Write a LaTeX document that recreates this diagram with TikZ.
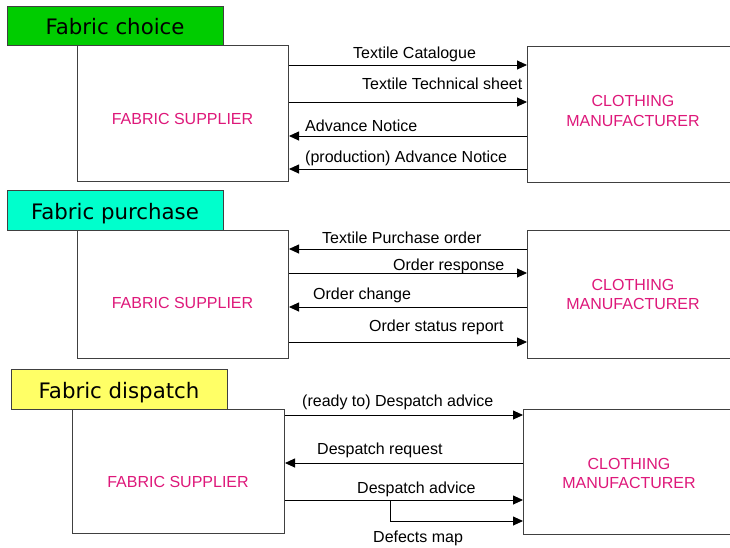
\documentclass[tikz,border=0pt]{standalone}
\usepackage{fontspec}
\setmainfont{Liberation Sans}
\newfontfamily\titlefont{DejaVu Sans}
\usetikzlibrary{arrows.meta}
\definecolor{pinktext}{RGB}{222,24,122}
\definecolor{boxline}{RGB}{64,64,64}
\definecolor{greenT}{RGB}{0,204,0}
\definecolor{cyanT}{RGB}{0,255,204}
\definecolor{yellowT}{RGB}{255,255,102}
\begin{document}
\begin{tikzpicture}[x=1pt,y=-1pt,
  party/.style={draw=boxline, line width=1pt, fill=white, anchor=north west, inner sep=0pt},
  titlebox/.style={draw=boxline, line width=1pt, anchor=north west, inner sep=0pt, minimum width=216pt, minimum height=39pt},
  titletext/.style={font=\titlefont\fontsize{21.3}{25}\selectfont, anchor=base, inner sep=0pt},
  partytext/.style={font=\fontsize{16}{19}\selectfont, text=pinktext, anchor=base, inner sep=0pt},
  msgtext/.style={font=\fontsize{16}{19}\selectfont, anchor=base west, inner sep=0pt},
  msg/.style={draw=black, line width=0.9pt, -{Triangle[length=10pt,width=9pt]}},
]
\useasboundingbox (0,0) rectangle (730,547);
\clip (0,0) rectangle (730,547);
\fill[white] (0,0) rectangle (730,547);

% ---------- Section 1: Fabric choice ----------
\node[party, minimum width=211pt, minimum height=136pt] (s1) at (77,45) {};
\node[party, minimum width=220pt, minimum height=136pt] (m1) at (527,46) {};
\node[titlebox, fill=greenT] (t1) at (7,6) {};
\node[titletext] (t1l) at (115,34) {Fabric choice};
\node[partytext] (s1l) at (182.5,124) {FABRIC SUPPLIER};
\node[partytext] (m1a) at (633,106) {CLOTHING};
\node[partytext] (m1b) at (633,126) {MANUFACTURER};

\coordinate (a1) at (400,65);
\coordinate (a2) at (400,102);
\coordinate (a3) at (400,136);
\coordinate (a4) at (400,169);
\draw[msg] (s1.east |- a1) -- (m1.west |- a1);
\draw[msg] (s1.east |- a2) -- (m1.west |- a2);
\draw[msg] (m1.west |- a3) -- (s1.east |- a3);
\draw[msg] (m1.west |- a4) -- (s1.east |- a4);
\node[msgtext] (l1) at (353,58) {Textile Catalogue};
\node[msgtext] (l2) at (362,89) {Textile Technical sheet};
\node[msgtext] (l3) at (305,131) {Advance Notice};
\node[msgtext] (l4) at (305,162) {(production) Advance Notice};

% ---------- Section 2: Fabric purchase ----------
\node[party, minimum width=211pt, minimum height=128pt] (s2) at (77,230) {};
\node[party, minimum width=220pt, minimum height=128pt] (m2) at (527,230) {};
\node[titlebox, fill=cyanT, minimum height=40pt] (t2) at (7,190) {};
\node[titletext] (t2l) at (115,219) {Fabric purchase};
\node[partytext] (s2l) at (182.5,308) {FABRIC SUPPLIER};
\node[partytext] (m2a) at (633,290) {CLOTHING};
\node[partytext] (m2b) at (633,309.5) {MANUFACTURER};

\coordinate (b1) at (400,249);
\coordinate (b2) at (400,273);
\coordinate (b3) at (400,307);
\coordinate (b4) at (400,342);
\draw[msg] (m2.west |- b1) -- (s2.east |- b1);
\draw[msg] (s2.east |- b2) -- (m2.west |- b2);
\draw[msg] (m2.west |- b3) -- (s2.east |- b3);
\draw[msg] (s2.east |- b4) -- (m2.west |- b4);
\node[msgtext] (k1) at (322,243) {Textile Purchase order};
\node[msgtext] (k2) at (393,270) {Order response};
\node[msgtext] (k3) at (313,299) {Order change};
\node[msgtext] (k4) at (369,331) {Order status report};

% ---------- Section 3: Fabric dispatch ----------
\node[party, minimum width=212pt, minimum height=124pt] (s3) at (72,409) {};
\node[party, minimum width=220pt, minimum height=125pt] (m3) at (523,409) {};
\node[titlebox, fill=yellowT, minimum height=40pt] (t3) at (11,369) {};
\node[titletext] (t3l) at (119,398) {Fabric dispatch};
\node[partytext] (s3l) at (178,487) {FABRIC SUPPLIER};
\node[partytext] (m3a) at (629,469) {CLOTHING};
\node[partytext] (m3b) at (629,488.5) {MANUFACTURER};

\coordinate (c1) at (400,415);
\coordinate (c2) at (400,463);
\coordinate (c3) at (400,500);
\coordinate (dm) at (390,500);
\coordinate (c4) at (450,521);
\draw[msg] (s3.east |- c1) -- (m3.west |- c1);
\draw[msg] (m3.west |- c2) -- (s3.east |- c2);
\draw[msg] (s3.east |- c3) -- (m3.west |- c3);
\draw[msg] (dm) -- (dm |- c4) -- (m3.west |- c4);
\node[msgtext] (j1) at (302,406) {(ready to) Despatch advice};
\node[msgtext] (j2) at (317,454) {Despatch request};
\node[msgtext] (j3) at (357,493) {Despatch advice};
\node[msgtext] (j4) at (373,542) {Defects map};
\end{tikzpicture}
\end{document}
